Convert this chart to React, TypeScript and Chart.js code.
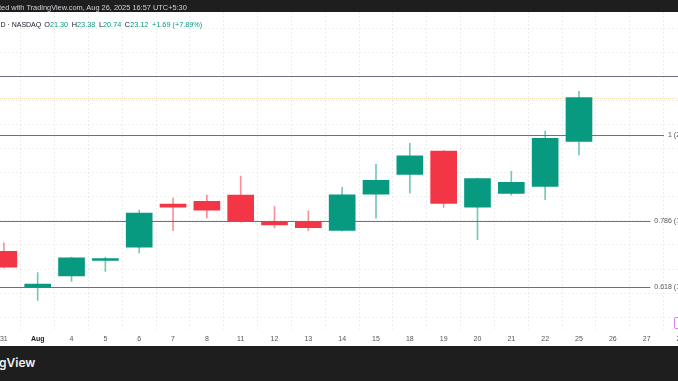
import React, { useEffect, useRef } from "react";
import { Chart, registerables } from "chart.js";

Chart.register(...registerables);

// ---------- data ----------
const dateLabels = ["31", "Aug", "4", "5", "6", "7", "8", "11", "12", "13", "14", "15", "18", "19", "20", "21", "22", "25", "26", "27", "28"];
const opens = [16.74, 15.26, 15.72, 16.36, 16.91, 18.70, 18.81, 19.07, 17.97, 17.95, 17.61, 19.11, 19.93, 20.90, 18.57, 19.14, 19.43, 21.30];
const highs = [17.09, 15.85, 16.50, 16.50, 18.45, 18.95, 19.07, 19.86, 18.60, 18.42, 19.39, 20.35, 21.22, 20.92, 19.78, 20.06, 21.73, 23.38];
const lows = [16.05, 14.70, 15.49, 15.90, 16.67, 17.60, 18.12, 17.95, 17.71, 17.60, 17.57, 18.11, 19.15, 18.56, 17.22, 19.07, 18.88, 20.74];
const closes = [16.08, 15.38, 16.47, 16.44, 18.33, 18.57, 18.45, 17.97, 17.83, 17.72, 19.08, 19.69, 20.70, 18.73, 19.76, 19.60, 21.43, 23.12];

const fibLevels = ["1", "0.786", "0.618"];
const fibPrices = [21.55, 18.01, 15.26];
const resistancePrice = 24.03;

const headerText = "ted with TradingView.com, Aug 26, 2025 16:57 UTC+5:30";
const symbolText = "1D · NASDAQ";
const footerText = "gView";

// ---------- styling / view ----------
const GREEN = "#089981";
const RED = "#F23645";
const GREEN_WICK = "rgba(8,153,129,0.55)";
const RED_WICK = "rgba(242,54,69,0.55)";
const FONT = "'Liberation Sans', Arial, sans-serif";
const W = 678;
const H = 381;
const SIDE = 20; // canvas overhang on each side
const X_MIN = -0.1144;
const X_MAX = 19.927;
const Y_MIN = 13.533;
const Y_MAX = 26.674;

const overlayPlugin = {
  id: "tvOverlay",
  beforeDatasetsDraw(chart: any) {
    const { ctx, chartArea, scales } = chart;
    const y = scales.y;
    ctx.save();
    ctx.beginPath();
    ctx.rect(chartArea.left, chartArea.top, chartArea.right - chartArea.left, chartArea.bottom - chartArea.top);
    ctx.clip();
    const hline = (py: number, x0: number, x1: number, color: string, dash: number[]) => {
      ctx.beginPath();
      ctx.setLineDash(dash);
      ctx.strokeStyle = color;
      ctx.lineWidth = 1;
      const yy = Math.round(py) + 0.5;
      ctx.moveTo(x0, yy);
      ctx.lineTo(x1, yy);
      ctx.stroke();
    };
    hline(y.getPixelForValue(resistancePrice), chartArea.left, chartArea.right, "#6f717a", []);
    ctx.font = `7px ${FONT}`;
    const labelRight = chartArea.right + 18;
    fibLevels.forEach((lv, i) => {
      const text = `${lv} (${fibPrices[i].toFixed(2)})`;
      const w = ctx.measureText(text).width;
      hline(y.getPixelForValue(fibPrices[i]), chartArea.left, labelRight - w - 4, "#6f717a", []);
    });
    const last = closes[closes.length - 1];
    hline(y.getPixelForValue(last), chartArea.left, chartArea.right, "rgba(238,185,100,0.5)", [1, 1]);
    ctx.restore();
  },
  afterDatasetsDraw(chart: any) {
    const { ctx, chartArea, scales } = chart;
    const y = scales.y;
    ctx.save();
    ctx.font = `7px ${FONT}`;
    ctx.fillStyle = "#555";
    ctx.textAlign = "right";
    ctx.textBaseline = "middle";
    const labelRight = chartArea.right + 18;
    fibLevels.forEach((lv, i) => {
      const text = `${lv} (${fibPrices[i].toFixed(2)})`;
      ctx.fillText(text, labelRight, Math.round(y.getPixelForValue(fibPrices[i])) + 0.5);
    });
    ctx.restore();
  },
};

export default function App() {
  const canvasRef = useRef<HTMLCanvasElement | null>(null);

  useEffect(() => {
    if (!canvasRef.current) return;
    const isUp = opens.map((o, i) => closes[i] >= o);
    const bodyData = opens.map((o, i) => ({ x: i, y: [o, closes[i]] }));
    const wickData = lows.map((l, i) => ({ x: i, y: [l, highs[i]] }));
    const gridPrices: number[] = [];
    for (let p = Math.ceil(Y_MIN); p <= Math.floor(Y_MAX); p++) gridPrices.push(p);

    const chart = new Chart(canvasRef.current, {
      type: "bar",
      data: {
        datasets: [
          {
            data: bodyData as any,
            backgroundColor: isUp.map((u) => (u ? GREEN : RED)),
            borderWidth: 0,
            barThickness: 26,
            minBarLength: 1,
            grouped: false,
            order: 0,
          } as any,
          {
            data: wickData as any,
            backgroundColor: isUp.map((u) => (u ? GREEN_WICK : RED_WICK)),
            borderWidth: 0,
            barThickness: 1,
            grouped: false,
            order: 1,
          } as any,
        ],
      },
      options: {
        animation: false,
        responsive: false,
        maintainAspectRatio: false,
        layout: { padding: { left: SIDE, right: SIDE, top: 12, bottom: 32.1 } },
        plugins: { legend: { display: false }, tooltip: { enabled: false } },
        scales: {
          x: {
            type: "linear",
            offset: false,
            min: X_MIN,
            max: X_MAX,
            afterBuildTicks: (s: any) => {
              s.ticks = dateLabels.map((_, i) => ({ value: i }));
            },
            ticks: {
              autoSkip: false,
              maxRotation: 0,
              padding: 6,
              callback: (v: any) => dateLabels[Math.round(Number(v))] ?? "",
              color: (c: any) => (c.tick && dateLabels[c.tick.value] === "Aug" ? "#222" : "#555"),
              font: (c: any) => ({
                family: FONT,
                size: 7,
                weight: c.tick && dateLabels[c.tick.value] === "Aug" ? "bold" : "normal",
              }),
            },
            grid: { drawTicks: false, color: "rgba(0,0,0,0.07)" },
            border: { display: false, dash: [2, 2] },
          },
          y: {
            type: "linear",
            min: Y_MIN,
            max: Y_MAX,
            afterBuildTicks: (s: any) => {
              s.ticks = gridPrices.map((v) => ({ value: v }));
            },
            ticks: { display: false },
            grid: { drawTicks: false, color: "rgba(0,0,0,0.06)" },
            border: { display: false, dash: [2, 2] },
          },
        },
      } as any,
      plugins: [overlayPlugin as any],
    });
    return () => chart.destroy();
  }, []);

  const last = closes.length - 1;
  const chg = closes[last] - closes[last - 1];
  const pct = (chg / closes[last - 1]) * 100;
  const sign = chg >= 0 ? "+" : "";
  const valColor = chg >= 0 ? GREEN : RED;
  const item = (k: string, v: number) => (
    <span style={{ marginRight: 3.6 }}>
      <span style={{ color: "#131722" }}>{k}</span>
      <span style={{ color: valColor }}>{v.toFixed(2)}</span>
    </span>
  );

  return (
    <div style={{ position: "fixed", left: 0, top: 0, width: W, height: H, overflow: "hidden", background: "#fff", fontFamily: FONT }}>
      <canvas
        ref={canvasRef}
        width={W + 2 * SIDE}
        height={H}
        style={{ position: "absolute", left: -SIDE, top: 0, width: W + 2 * SIDE, height: H }}
      />
      <div style={{ position: "absolute", left: 0, top: 0, width: W, height: 12, background: "#1e1e1e" }}>
        <span style={{ position: "absolute", left: -1, top: 4, fontSize: 7.4, lineHeight: "8px", color: "#d1d4dc", whiteSpace: "nowrap" }}>
          {headerText}
        </span>
      </div>
      <div style={{ position: "absolute", left: -3.5, top: 20, fontSize: 7.3, lineHeight: "10px", whiteSpace: "nowrap", color: "#131722" }}>
        <span style={{ marginRight: 3, fontSize: 7 }}>{symbolText}</span>
        {item("O", opens[last])}
        {item("H", highs[last])}
        {item("L", lows[last])}
        {item("C", closes[last])}
        <span style={{ color: valColor }}>
          {`${sign}${chg.toFixed(2)} (${sign}${pct.toFixed(2)}%)`}
        </span>
      </div>
      <div style={{ position: "absolute", left: 674, top: 317, width: 10, height: 10, border: "1px solid #e27cf2", borderRadius: 2, background: "#fff" }} />
      <div style={{ position: "absolute", left: 0, top: 346, width: W, height: H - 346, background: "#1e1e1e" }}>
        <span style={{ position: "absolute", left: -1, top: 9, fontFamily: "Inter, sans-serif", fontWeight: 600, fontSize: 12, lineHeight: "16px", color: "#f0f0f0" }}>
          {footerText}
        </span>
      </div>
    </div>
  );
}
